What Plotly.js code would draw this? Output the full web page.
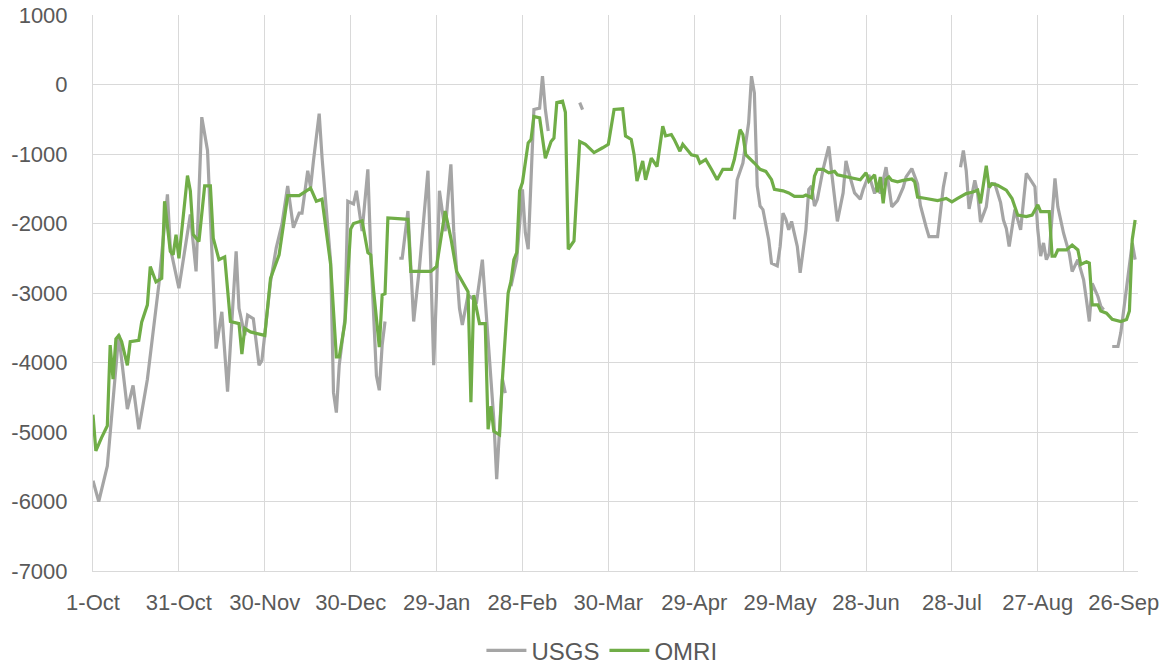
<!DOCTYPE html>
<html>
<head>
<meta charset="utf-8">
<script src="https://cdn.plot.ly/plotly-3.0.1.min.js"></script>
<style>
  html, body { margin: 0; padding: 0; background: #ffffff; }
  #chart { width: 1170px; height: 664px; }
</style>
</head>
<body>
<div id="chart"></div>
<script>
// Days since 1-Oct (water year), and values
const tickDays = [0, 30, 60, 90, 120, 150, 180, 210, 240, 270, 300, 330, 360];
const tickLabels = ["1-Oct", "31-Oct", "30-Nov", "30-Dec", "29-Jan", "28-Feb", "30-Mar",
                    "29-Apr", "29-May", "28-Jun", "28-Jul", "27-Aug", "26-Sep"];
const yTickValues = [1000, 0, -1000, -2000, -3000, -4000, -5000, -6000, -7000];
const yTickLabels = ["1000", "0", "-1000", "-2000", "-3000", "-4000", "-5000", "-6000", "-7000"];

const usgsDays = [0,2,5,7,9,12,14,16,19,21,23,26,27,30,34,36,38,40,42,43,45,47,50,51,53,54,56,58,59,
  62,64,66,68,70,72,73,75,76,77,79,80,83,84,85,86,88,89,91,92,94,96,97,99,100,101,102,103,
  107,108,110,112,114,117,119,120,121,123,125,126,128,129,131,134,136,137,138,140,141,142,143,144,145,
  146,148,150,151,152,153,154,156,157,158,159,160,
  170,171,172,
  224,225,227,229,230,231,232,233,234,236,237,239,240,241,242,243,244,246,247,249,250,251,252,253,255,
  257,258,259,260,262,263,264,266,268,269,271,273,274,275,277,278,279,281,283,284,286,288,289,291,292,
  295,296,297,298,299,
  303,304,305,306,308,309,310,312,313,315,317,318,319,320,322,323,324,326,327,329,330,331,332,333,334,
  336,337,339,341,342,344,346,347,348,349,351,352,353,354,
  356,358,359,361,362,363,364];
const usgsValues = [-5700,-6000,-5490,-4500,-3600,-4670,-4330,-4960,-4240,-3560,-2880,-1580,-2350,-2930,-1870,-2690,-470,-950,-2790,-3800,-3270,-4420,-2400,-3220,-3610,-3320,-3370,-4040,-3970,
  -2840,-2350,-2010,-1460,-2060,-1850,-1850,-1240,-1480,-1100,-420,-1050,-2550,-4430,-4720,-4040,-3370,-1680,-1720,-1530,-2110,-1220,-2400,-4190,-4400,-3750,-3410,null,
  -2500,-2500,-1820,-3410,-2640,-1240,-4040,-2970,-1530,-2110,-1150,-2110,-3220,-3460,-3030,-3120,-2520,-3090,-3700,-4820,-5680,-4920,-4240,-4440,null,
  -2900,-2520,-1510,-2130,-2370,-1320,-360,-340,120,-360,-670,null,
  -260,-360,null,
  -1940,-1370,-1130,-550,120,-120,-1460,-1750,-1800,-2230,-2570,-2610,-2330,-1850,-1940,-2090,-1970,-2330,-2710,-2090,-1510,-1460,-1750,-1650,-1220,
  -890,-1270,-1650,-1970,-1560,-1100,-1270,-1560,-1650,-1510,-1300,-1570,-1430,-1570,-1190,-1480,-1760,-1670,-1480,-1330,-1210,-1430,-1740,-2050,-2190,
  -2190,-1860,-1480,-1260,null,
  -1190,-950,-1240,-1790,-1380,-1570,-1980,-1760,-1430,-1430,-1700,-1950,-2070,-2330,-1800,-1950,-2090,-1280,-1350,-1470,-2090,-2470,-2280,-2520,-2430,
  -1350,-1760,-2140,-2430,-2690,-2520,-2810,-3100,-3410,-2860,-3050,-3190,-3240,null,
  -3770,-3770,-3570,-2950,-2620,-2280,-2520];

const omriDays = [0,1,3,5,6,7,8,9,10,12,13,16,17,19,20,22,24,25,27,28,29,30,33,34,35,37,39,41,42,44,46,47,48,
  51,52,53,55,60,62,65,68,72,76,78,80,83,85,86,88,90,91,94,96,97,98,100,101,102,103,110,111,118,120,
  123,125,127,131,132,133,135,137,138,139,140,142,143,145,146,147,148,149,150,152,153,154,156,157,158,
  160,161,162,164,165,166,168,170,172,175,178,180,182,185,186,188,189,190,192,193,195,197,199,200,202,
  203,205,206,209,211,212,214,216,218,220,223,224,226,227,228,231,233,235,237,238,241,243,245,248,249,
  251,252,253,255,257,259,260,262,265,268,270,271,273,274,275,276,277,278,279,281,283,286,287,288,291,
  295,298,300,302,305,307,309,310,312,313,314,316,319,321,323,326,328,330,331,334,335,336,337,340,342,
  344,345,347,348,349,351,352,354,356,359,361,362,363,364];
const omriValues = [-4750,-5270,-5080,-4910,-3750,-4240,-3660,-3610,-3700,-4040,-3700,-3680,-3420,-3170,-2620,-2840,-2790,-1680,-2400,-2450,-2160,-2500,-1310,-1530,-2160,-2260,-1460,-1460,-2210,-2520,-2480,-2930,-3410,
  -3440,-3880,-3510,-3560,-3610,-2790,-2450,-1600,-1600,-1490,-1680,-1650,-2590,-3920,-3920,-3430,-2080,-2000,-1960,-2420,-2450,-2960,-3780,-3030,-3010,-1920,-1940,-2690,-2690,-2620,
  -1820,-2210,-2690,-2980,-4570,-3030,-3440,-3440,-4960,-4630,-4990,-5040,-4240,-3000,-2830,-2520,-2420,-1530,-1410,-840,-790,-460,-480,-740,-1060,
  -820,-770,-260,-240,-400,-2370,-2250,-820,-860,-980,-910,-860,-360,-350,-740,-790,-1010,-1390,-1100,-1370,-1060,-1180,-600,-740,-720,
  -790,-960,-860,-1010,-1030,-1130,-1080,-1220,-1370,-1220,-1220,-1080,-650,-720,-1010,-1130,-1220,-1250,-1370,-1510,-1530,-1560,-1610,-1610,-1590,
  -1630,-1320,-1220,-1220,-1270,-1250,-1300,-1320,-1340,-1370,-1270,-1390,-1300,-1550,-1330,-1710,-1360,-1330,-1380,-1400,-1380,-1360,-1400,-1620,-1640,
  -1670,-1640,-1690,-1640,-1570,-1550,-1520,-1710,-1170,-1480,-1430,-1450,-1520,-1640,-1880,-1900,-1880,-1730,-1830,-1830,-2470,-2470,-2380,-2380,-2310,
  -2380,-2590,-2550,-2570,-3170,-3170,-3260,-3290,-3380,-3410,-3380,-3260,-2230,-1950];

const FONT = "Liberation Sans, Arial, sans-serif";
const TXT = "#595959";
const GRID = "#d9d9d9";

const traces = [
  {
    x: usgsDays, y: usgsValues, name: "USGS", type: "scatter", mode: "lines",
    line: { color: "#A5A5A5", width: 3.2 }, connectgaps: false, hoverinfo: "skip"
  },
  {
    x: omriDays, y: omriValues, name: "OMRI", type: "scatter", mode: "lines",
    line: { color: "#70AD47", width: 3.2 }, hoverinfo: "skip"
  }
];

const layout = {
  width: 1170, height: 664,
  margin: { l: 93, r: 32, t: 15, b: 93 },
  paper_bgcolor: "#ffffff", plot_bgcolor: "#ffffff",
  font: { family: FONT, size: 22, color: TXT },
  showlegend: true,
  legend: {
    orientation: "h", xref: "paper", x: 0.487, xanchor: "center",
    yref: "container", y: 0.02, yanchor: "middle",
    font: { family: FONT, size: 24, color: TXT },
    itemwidth: 40
  },
  xaxis: {
    range: [0, 365], tickmode: "array", tickvals: tickDays, ticktext: tickLabels,
    showgrid: true, gridcolor: GRID, gridwidth: 1,
    showline: true, linecolor: GRID, linewidth: 1,
    zeroline: false, ticks: "", ticklabelstandoff: 12,
    tickfont: { family: FONT, size: 22, color: TXT }, fixedrange: true
  },
  yaxis: {
    range: [-7000, 1000], tickmode: "array", tickvals: yTickValues, ticktext: yTickLabels,
    showgrid: true, gridcolor: GRID, gridwidth: 1,
    showline: true, linecolor: GRID, linewidth: 1,
    zeroline: false, ticks: "", ticklabelstandoff: 20,
    tickfont: { family: FONT, size: 22, color: TXT }, fixedrange: true
  }
};

Plotly.newPlot("chart", traces, layout, { displayModeBar: false, staticPlot: true });
</script>
</body>
</html>
